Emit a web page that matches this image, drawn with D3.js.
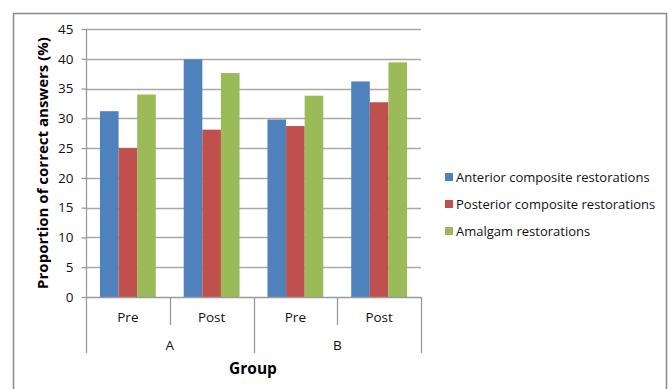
<!DOCTYPE html>
<html><head><meta charset="utf-8">
<script src="https://cdn.jsdelivr.net/npm/d3@7/dist/d3.min.js"></script>
<style>body{margin:0;background:#fff;} text{font-family:"Open Sans",sans-serif;}</style>
</head><body><svg id="c" width="670" height="389"></svg>
<script>
const groups = ["A", "B"];
const phases = ["Pre", "Post"];
const categories = ["A-Pre", "A-Post", "B-Pre", "B-Post"];
const seriesNames = ["Anterior composite restorations", "Posterior composite restorations", "Amalgam restorations"];
const anterior = [31.2, 39.9, 29.8, 36.2];
const posterior = [25.0, 28.1, 28.7, 32.7];
const amalgam = [34.0, 37.6, 33.8, 39.4];
const yTicks = [0, 5, 10, 15, 20, 25, 30, 35, 40, 45];
const colors = ["#4f81bd", "#c0504d", "#9bbb59"];
const series = [anterior, posterior, amalgam];

const svg = d3.select("#c");
// outer border
svg.append("rect").attr("x",13.5).attr("y",13.5).attr("width",653).attr("height",400)
  .attr("fill","none").attr("stroke","#8a8a8a").attr("stroke-width",1.5);

const pL = 86, pR = 421, pT = 29, pB = 297;
const x = d3.scaleBand().domain(categories).range([pL, pR]).paddingInner(0).paddingOuter(0);
const y = d3.scaleLinear().domain([0, 45]).range([pB, pT]);
const inner = d3.scaleBand().domain(d3.range(3)).range([0, x.bandwidth()]).paddingInner(0).paddingOuter(0.75);

// gridlines
svg.append("g").selectAll("line").data(yTicks.filter(d=>d>0)).join("line")
  .attr("x1", pL).attr("x2", pR).attr("y1", d=>Math.round(y(d))+0.5).attr("y2", d=>Math.round(y(d))+0.5)
  .attr("stroke", "#aca7a4").attr("stroke-width", 1.4);

// y axis
const ya = svg.append("g").attr("transform", `translate(${pL+0.5},0)`)
  .call(d3.axisLeft(y).tickValues(yTicks).tickSize(5).tickPadding(8));
ya.select(".domain").attr("stroke","#9a9a9a").attr("stroke-width",1.3).attr("d", `M0,${pT}V${pB}`);
ya.selectAll(".tick line").attr("stroke","#9a9a9a").attr("stroke-width",1.3);
ya.selectAll(".tick text").attr("font-size", 13.5).attr("fill","#111").attr("font-family","Open Sans");

// bars
series.forEach((vals, si) => {
  svg.append("g").selectAll("rect").data(vals).join("rect")
    .attr("x", (d,i)=>x(categories[i]) + inner(si))
    .attr("width", inner.bandwidth())
    .attr("y", d=>y(d)).attr("height", d=>pB - y(d))
    .attr("fill", colors[si]);
});

// x axis baseline and separators
const ax = svg.append("g").attr("stroke","#9a9a9a").attr("stroke-width",1.3);
ax.append("line").attr("x1",pL).attr("x2",pR).attr("y1",pB+0.5).attr("y2",pB+0.5);
const seps = [pL, x("A-Post"), x("B-Pre"), x("B-Post"), pR];
seps.forEach((sx, i) => {
  const long = (i % 2 === 0);
  ax.append("line").attr("x1", Math.round(sx)+0.5).attr("x2", Math.round(sx)+0.5)
    .attr("y1", pB).attr("y2", long ? 353 : 325);
});
// phase labels
svg.append("g").selectAll("text").data(categories).join("text")
  .attr("x", d=>x(d)+x.bandwidth()/2).attr("y", 322)
  .attr("text-anchor","middle").attr("font-size",13.5).attr("fill","#111")
  .text((d,i)=>phases[i%2]);
// group labels
svg.append("g").selectAll("text").data(groups).join("text")
  .attr("x", (d,i)=>x(categories[i*2]) + x.bandwidth()).attr("y", 350)
  .attr("text-anchor","middle").attr("font-size",13.5).attr("fill","#111")
  .text(d=>d);

// axis titles
svg.append("text").attr("x", 253).attr("y", 374).attr("text-anchor","middle")
  .attr("font-size",15.5).attr("font-weight","bold").attr("fill","#000").text("Group");
svg.append("text").attr("transform","translate(48,163) rotate(-90)").attr("text-anchor","middle")
  .attr("font-size",15).attr("font-weight","bold").attr("fill","#000").text("Proportion of correct answers (%)");

// legend
const lg = svg.append("g");
seriesNames.forEach((n, i) => {
  const ly = 177 + i*27;
  lg.append("rect").attr("x",445).attr("y",ly-4).attr("width",8).attr("height",8).attr("fill",colors[i]);
  lg.append("text").attr("x",456).attr("y",ly+4.5).attr("font-size",13).attr("fill","#111").text(n);
});
</script></body></html>
